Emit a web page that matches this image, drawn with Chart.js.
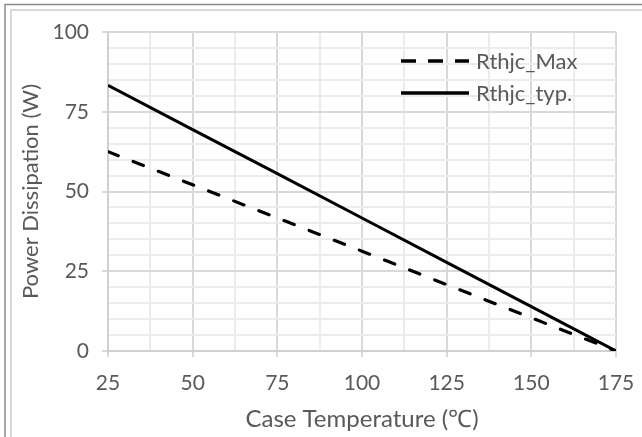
<!DOCTYPE html>
<html>
<head>
<meta charset="utf-8">
<script src="https://cdn.jsdelivr.net/npm/chart.js@4.4.1/dist/chart.umd.min.js"></script>
<style>
  html, body { margin: 0; padding: 0; background: #fff; }
  #wrap { position: relative; width: 642px; height: 437px; }
  canvas { position: absolute; left: 0; top: 0; }
</style>
</head>
<body>
<div id="wrap"><canvas id="c" width="642" height="437"></canvas></div>
<script>
const caseTemp = [25, 50, 75, 100, 125, 150, 175];
const rthjcMax = [62.5, 52.1, 41.7, 31.3, 20.8, 10.4, 0];
const rthjcTyp = [83.3, 69.4, 55.6, 41.7, 27.8, 13.9, 0];
const seriesLabels = ['Rthjc_Max', 'Rthjc_typ.'];
const xTicks = [25, 50, 75, 100, 125, 150, 175];
const yTicks = [0, 25, 50, 75, 100];

const FONT = "Lato, 'Open Sans', sans-serif";
const TXT = '#595959';

const frame = {
  id: 'frame',
  beforeDraw(chart) {
    const ctx = chart.ctx;
    ctx.save();
    ctx.fillStyle = '#ffffff';
    ctx.fillRect(0, 0, chart.width, chart.height);
    ctx.strokeStyle = '#8c8c8c';
    ctx.lineWidth = 1.5;
    ctx.beginPath();
    ctx.moveTo(5, chart.height); ctx.lineTo(5, 4.5); ctx.lineTo(chart.width, 4.5);
    ctx.stroke();
    ctx.strokeStyle = '#d9d9d9';
    ctx.lineWidth = 2;
    ctx.beginPath();
    ctx.moveTo(11, chart.height); ctx.lineTo(11, 10); ctx.lineTo(chart.width, 10);
    ctx.stroke();
    ctx.restore();
  }
};

const legendIn = {
  id: 'legendIn',
  afterDraw(chart) {
    const ctx = chart.ctx;
    const ds = chart.data.datasets;
    const x0 = 401, x1 = 469, tx = 476;
    const ys = [61, 93];
    ctx.save();
    ds.forEach((d, i) => {
      ctx.strokeStyle = d.borderColor;
      ctx.lineWidth = 3.5;
      ctx.setLineDash(d.borderDash && d.borderDash.length ? [15, 12] : []);
      ctx.beginPath();
      ctx.moveTo(x0, ys[i]); ctx.lineTo(x1, ys[i]);
      ctx.stroke();
      ctx.setLineDash([]);
      ctx.fillStyle = TXT;
      ctx.font = '22px ' + FONT;
      ctx.textBaseline = 'middle';
      ctx.fillText(d.label, tx, ys[i] + 1);
    });
    ctx.restore();
  }
};

const isMajor = (v) => Math.abs(v / 25 - Math.round(v / 25)) < 1e-6;

new Chart(document.getElementById('c'), {
  type: 'scatter',
  data: {
    datasets: [
      {
        label: seriesLabels[0],
        data: caseTemp.map((x, i) => ({ x, y: rthjcMax[i] })),
        showLine: true,
        borderColor: '#000000',
        borderWidth: 3.2,
        borderDash: [11, 16],
        borderCapStyle: 'round',
        pointRadius: 0,
        tension: 0
      },
      {
        label: seriesLabels[1],
        data: caseTemp.map((x, i) => ({ x, y: rthjcTyp[i] })),
        showLine: true,
        borderColor: '#000000',
        borderWidth: 3,
        pointRadius: 0,
        tension: 0
      }
    ]
  },
  options: {
    responsive: false,
    animation: false,
    devicePixelRatio: 1,
    layout: { padding: { left: 18, right: 26, top: 32, bottom: 3 } },
    plugins: { legend: { display: false }, tooltip: { enabled: false } },
    scales: {
      x: {
        type: 'linear',
        min: xTicks[0], max: xTicks[xTicks.length - 1],
        afterBuildTicks(axis) {
          const t = [];
          for (let v = axis.min; v <= axis.max + 1e-6; v += 12.5) t.push({ value: v });
          axis.ticks = t;
        },
        afterFit(axis) { axis.height = 83; axis.paddingLeft = 0; axis.paddingRight = 0; },
        ticks: {
          autoSkip: false, maxRotation: 0,
          color: TXT, font: { family: FONT, size: 21 }, padding: 14,
          callback: (v) => xTicks.includes(v) ? String(v) : ''
        },
        grid: {
          color: (c) => isMajor(c.tick ? c.tick.value : 0) ? '#d9d9d9' : '#ececec',
          lineWidth: 2,
          tickLength: 6,
          tickColor: (c) => isMajor(c.tick ? c.tick.value : 0) ? '#d9d9d9' : 'rgba(0,0,0,0)',
          drawTicks: true
        },
        border: { display: true, color: '#d0d0d0', width: 2 },
        title: {
          display: true, text: 'Case Temperature (℃)',
          color: TXT, font: { family: FONT, size: 24 }, padding: { top: 4, bottom: 0 }
        }
      },
      y: {
        type: 'linear',
        min: yTicks[0], max: yTicks[yTicks.length - 1],
        afterBuildTicks(axis) {
          const t = [];
          for (let v = axis.min; v <= axis.max + 1e-6; v += 5) t.push({ value: v });
          axis.ticks = t;
        },
        afterFit(axis) { axis.width = 90; },
        ticks: {
          autoSkip: false,
          color: TXT, font: { family: FONT, size: 21 }, padding: 13,
          callback: (v) => yTicks.includes(v) ? String(v) : ''
        },
        grid: {
          color: (c) => isMajor(c.tick ? c.tick.value : 0) ? '#d9d9d9' : '#ececec',
          lineWidth: 2,
          tickLength: 6,
          tickColor: (c) => isMajor(c.tick ? c.tick.value : 0) ? '#d9d9d9' : 'rgba(0,0,0,0)'
        },
        border: { display: true, color: '#d0d0d0', width: 2 },
        title: {
          display: true, text: 'Power Dissipation (W)',
          color: TXT, font: { family: FONT, size: 22 }, padding: { top: 0, bottom: 2 }
        }
      }
    }
  },
  plugins: [frame, legendIn]
});
</script>
</body>
</html>
